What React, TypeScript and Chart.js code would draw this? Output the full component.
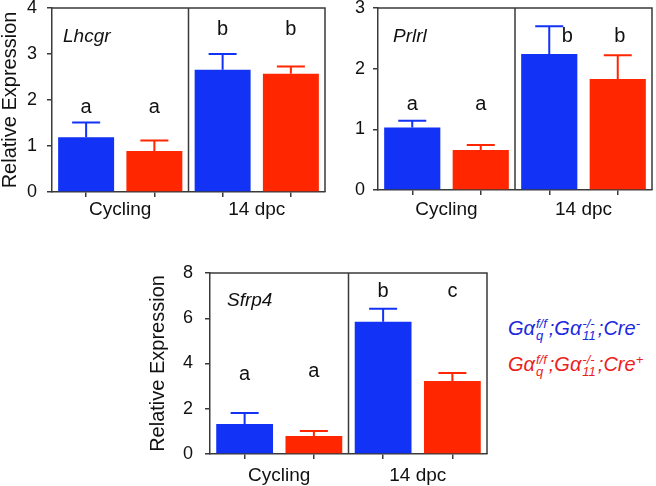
import React, { useEffect, useRef } from 'react';
import { Chart, registerables } from 'chart.js';

Chart.register(...registerables);

const FONT = '"Liberation Sans", Arial, Helvetica, sans-serif';
const BLUE = 'rgb(18, 50, 245)';
const RED = 'rgb(255, 38, 0)';
const LEGEND_BLUE = 'rgb(28, 40, 222)';
const LEGEND_RED = 'rgb(236, 30, 30)';
const AXIS = '#3a3a3a';
const TEXT = '#111111';

// ---- data ----
const groups = ['Cycling', '14 dpc'];
const genotypes = ['Cre-', 'Cre+'];
const barLabels = groups.flatMap((g) => genotypes.map((t) => `${g} ${t}`));

const lhcgrMeans = [1.19, 0.89, 2.66, 2.57];
const lhcgrErrors = [0.32, 0.23, 0.34, 0.16];
const lhcgrLetters = ['a', 'a', 'b', 'b'];
const lhcgrLetterLevels = [1.72, 1.72, 3.41, 3.41];

const prlrlMeans = [1.03, 0.66, 2.24, 1.83];
const prlrlErrors = [0.11, 0.08, 0.46, 0.39];
const prlrlLetters = ['a', 'a', 'b', 'b'];
const prlrlLetterLevels = [1.32, 1.32, 2.44, 2.44];

const sfrp4Means = [1.33, 0.8, 5.84, 3.23];
const sfrp4Errors = [0.48, 0.22, 0.58, 0.35];
const sfrp4Letters = ['a', 'a', 'b', 'c'];
const sfrp4LetterLevels = [3.25, 3.4, 6.96, 6.96];

const barColors = [BLUE, RED, BLUE, RED];

type PanelProps = {
  gene: string;
  means: number[];
  errors: number[];
  letters: string[];
  letterLevels: number[];
  letterShift: number[];
  yMax: number;
  yStep: number;
  showTitle: boolean;
  box: { left: number; top: number; width: number; height: number };
  area: { left: number; top: number; right: number; bottom: number };
  tickPad: number;
  groupLabelOffset: number;
  geneOffset: { dx: number; dy: number };
};

function Panel(p: PanelProps) {
  const ref = useRef<HTMLCanvasElement | null>(null);
  useEffect(() => {
    if (!ref.current) return;
    const annot = {
      id: 'annot',
      afterDatasetsDraw(chart: any) {
        const { ctx, chartArea: a, scales } = chart;
        const y = scales.y;
        const meta = chart.getDatasetMeta(0);
        ctx.save();
        // error bars (upper whisker)
        meta.data.forEach((bar: any, i: number) => {
          const xc = bar.x;
          const yTop = y.getPixelForValue(p.means[i] + p.errors[i]);
          const yBar = y.getPixelForValue(p.means[i]);
          ctx.strokeStyle = barColors[i];
          ctx.lineWidth = 2;
          ctx.beginPath();
          ctx.moveTo(xc, yBar);
          ctx.lineTo(xc, yTop);
          ctx.moveTo(xc - 14, yTop);
          ctx.lineTo(xc + 14, yTop);
          ctx.stroke();
        });
        // frame (top, right) and divider
        ctx.strokeStyle = AXIS;
        ctx.lineWidth = 1.5;
        ctx.beginPath();
        ctx.moveTo(a.left, a.top);
        ctx.lineTo(a.right, a.top);
        ctx.lineTo(a.right, a.bottom);
        const xd = (meta.data[1].x + meta.data[2].x) / 2;
        ctx.moveTo(xd, a.top);
        ctx.lineTo(xd, a.bottom);
        ctx.stroke();
        // significance letters
        ctx.fillStyle = TEXT;
        ctx.font = `20px ${FONT}`;
        ctx.textAlign = 'center';
        ctx.textBaseline = 'alphabetic';
        p.letters.forEach((l, i) => {
          ctx.fillText(l, meta.data[i].x + p.letterShift[i], y.getPixelForValue(p.letterLevels[i]));
        });
        // gene name
        ctx.font = `italic 19px ${FONT}`;
        ctx.textAlign = 'left';
        ctx.fillText(p.gene, a.left + p.geneOffset.dx, a.top + p.geneOffset.dy);
        // group labels
        ctx.font = `19px ${FONT}`;
        ctx.textAlign = 'center';
        groups.forEach((g, k) => {
          const xc = (meta.data[2 * k].x + meta.data[2 * k + 1].x) / 2;
          ctx.fillText(g, xc, a.bottom + p.groupLabelOffset);
        });
        ctx.restore();
      },
    };
    const chart = new Chart(ref.current, {
      type: 'bar',
      data: {
        labels: barLabels,
        datasets: [
          {
            data: p.means,
            backgroundColor: barColors,
            borderWidth: 0,
            barPercentage: 0.82,
            categoryPercentage: 1,
          },
        ],
      },
      options: {
        animation: false,
        responsive: false,
        devicePixelRatio: 1,
        events: [],
        layout: {
          padding: {
            left: 0,
            top: p.area.top,
            right: p.box.width - p.area.right,
            bottom: 0,
          },
        },
        plugins: { legend: { display: false }, tooltip: { enabled: false } },
        scales: {
          x: {
            type: 'category',
            offset: true,
            grid: {
              offset: false,
              drawOnChartArea: false,
              drawTicks: true,
              tickLength: 5,
              color: AXIS,
              lineWidth: 1.5,
            },
            border: { display: true, color: AXIS, width: 1.5 },
            ticks: { callback: () => '', maxRotation: 0, autoSkip: false },
            afterFit: (scale: any) => {
              scale.height = p.box.height - p.area.bottom;
            },
          },
          y: {
            min: 0,
            max: p.yMax,
            grid: {
              drawOnChartArea: false,
              drawTicks: true,
              tickLength: 5,
              color: AXIS,
              lineWidth: 1.5,
            },
            border: { display: true, color: AXIS, width: 1.5 },
            ticks: {
              stepSize: p.yStep,
              padding: p.tickPad,
              color: TEXT,
              font: { family: FONT, size: 18 },
            },
            title: {
              display: p.showTitle,
              text: 'Relative Expression',
              color: TEXT,
              padding: 0,
              font: { family: FONT, size: 20, lineHeight: 1 },
            },
            afterFit: (scale: any) => {
              scale.width = p.area.left;
            },
          },
        },
      },
      plugins: [annot],
    } as any);
    return () => chart.destroy();
  }, []);
  return (
    <canvas
      ref={ref}
      width={p.box.width}
      height={p.box.height}
      style={{
        position: 'absolute',
        left: p.box.left,
        top: p.box.top,
        width: p.box.width,
        height: p.box.height,
      }}
    />
  );
}

function Stack({ sup, sub }: { sup: string; sub: string }) {
  return (
    <span
      style={{
        display: 'inline-block',
        verticalAlign: '-5px',
        fontSize: 13,
        lineHeight: '12px',
        marginLeft: 1,
        marginRight: 2,
      }}
    >
      <span style={{ display: 'block' }}>{sup}</span>
      <span style={{ display: 'block' }}>{sub}</span>
    </span>
  );
}

function LegendLine({ color, top, sign }: { color: string; top: number; sign: string }) {
  return (
    <div
      style={{
        position: 'absolute',
        left: 508,
        top,
        color,
        font: `italic 20px ${FONT}`,
        lineHeight: '22px',
        whiteSpace: 'nowrap',
      }}
    >
      Gα<Stack sup="f/f" sub="q" />;Gα<Stack sup="-/-" sub="11" />;Cre
      <span style={{ fontSize: 13, verticalAlign: '7px' }}>{sign}</span>
    </div>
  );
}

export default function App() {
  return (
    <div
      style={{
        position: 'fixed',
        left: 0,
        top: 0,
        width: 656,
        height: 486,
        background: '#fff',
        overflow: 'hidden',
      }}
    >
      <Panel
        gene="Lhcgr"
        means={lhcgrMeans}
        errors={lhcgrErrors}
        letters={lhcgrLetters}
        letterLevels={lhcgrLetterLevels}
        letterShift={[0, 0, 0, 0]}
        yMax={4}
        yStep={1}
        showTitle={true}
        box={{ left: 0, top: -20, width: 330, height: 250 }}
        area={{ left: 52, top: 28, right: 325, bottom: 212 }}
        tickPad={10}
        groupLabelOffset={23}
        geneOffset={{ dx: 11, dy: 34 }}
      />
      <Panel
        gene="Prlrl"
        means={prlrlMeans}
        errors={prlrlErrors}
        letters={prlrlLetters}
        letterLevels={prlrlLetterLevels}
        letterShift={[0, 0, 18, 2]}
        yMax={3}
        yStep={1}
        showTitle={false}
        box={{ left: 330, top: -20, width: 326, height: 250 }}
        area={{ left: 48, top: 28, right: 322, bottom: 210 }}
        tickPad={8}
        groupLabelOffset={25}
        geneOffset={{ dx: 15, dy: 34 }}
      />
      <Panel
        gene="Sfrp4"
        means={sfrp4Means}
        errors={sfrp4Errors}
        letters={sfrp4Letters}
        letterLevels={sfrp4LetterLevels}
        letterShift={[0, 0, 0, 0]}
        yMax={8}
        yStep={2}
        showTitle={true}
        box={{ left: 148, top: 250, width: 344, height: 236 }}
        area={{ left: 62, top: 23, right: 339, bottom: 204 }}
        tickPad={12}
        groupLabelOffset={27}
        geneOffset={{ dx: 17, dy: 33 }}
      />
      <LegendLine color={LEGEND_BLUE} top={313} sign="-" />
      <LegendLine color={LEGEND_RED} top={349} sign="+" />
    </div>
  );
}
